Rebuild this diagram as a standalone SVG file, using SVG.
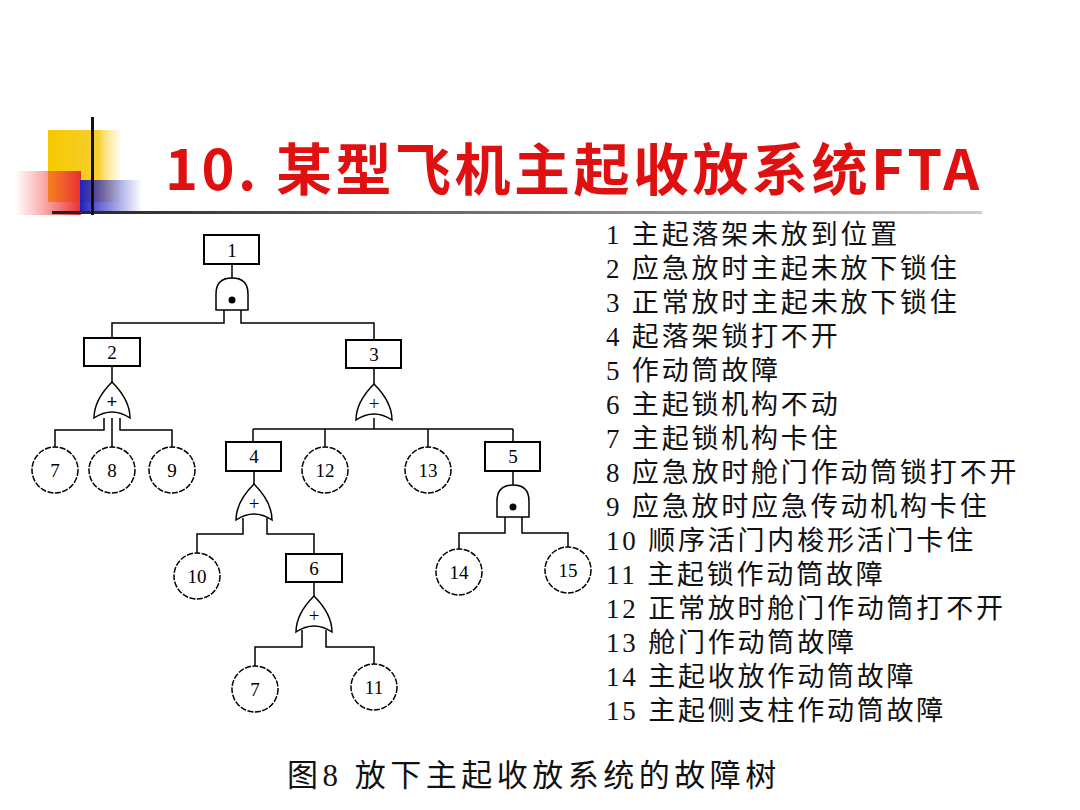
<svg xmlns="http://www.w3.org/2000/svg" width="1080" height="810" viewBox="0 0 1080 810">
<defs>
<linearGradient id="red" x1="0" x2="1"><stop offset="0" stop-color="#ff4040" stop-opacity="0"/><stop offset="1" stop-color="#e83030"/></linearGradient>
<linearGradient id="blue" x1="0" x2="1"><stop offset="0" stop-color="#2020c0"/><stop offset="1" stop-color="#2020c0" stop-opacity="0"/></linearGradient>
<linearGradient id="line" x1="0" x2="1"><stop offset="0" stop-color="#222"/><stop offset="1" stop-color="#ccc"/></linearGradient>
<linearGradient id="yel" x1="0" x2="1"><stop offset="0" stop-color="#f5c800"/><stop offset="0.7" stop-color="#f7cf30"/><stop offset="1" stop-color="#fff0b0" stop-opacity="0.3"/></linearGradient>
<path id="or" d="M-18,18 Q-18,0 0,-18 Q18,0 18,18 Q0,6 -18,18 Z"/>
<path id="and" d="M-16,16 L-16,0 Q-16,-16 0,-16 Q16,-16 16,0 L16,16 Z"/>
</defs>
<style>
.b{fill:#fff;stroke:#000;stroke-width:2}
.c{fill:#fff;stroke:#000;stroke-width:1.5;stroke-dasharray:6 1.5}
.g{fill:#fff;stroke:#000;stroke-width:1.5}
.l{fill:none;stroke:#000;stroke-width:1.5}
.t{font-family:"Liberation Serif","Noto Sans CJK SC",serif;font-size:19px;text-anchor:middle;fill:#000}
.leg{font-family:"Liberation Serif","Noto Sans CJK SC",serif;font-size:27px;fill:#111;letter-spacing:2.8px}
</style>
<rect width="1080" height="810" fill="#fff"/>
<rect x="48" y="130" width="72" height="72" fill="url(#yel)"/>
<rect x="15" y="171" width="66" height="44" fill="url(#red)"/>
<rect x="80" y="180" width="62" height="34" fill="url(#blue)"/>
<rect x="52" y="211" width="930" height="3" fill="url(#line)"/>
<rect x="91" y="117" width="3" height="98" fill="#111"/>
<text x="165" y="190" font-family="Noto Sans CJK SC,sans-serif" font-weight="bold" font-size="56" letter-spacing="3.5" fill="#e01010">10. 某型飞机主起收放系统FTA</text>
<g id="connectors">
<path class="l" d="M232,264V278 M224,310V323H112V338 M241,310V323H374V340"/>
<path class="l" d="M112,366V382 M104,418V430H55V447 M112,418V447 M120,418V430H172V447"/>
<path class="l" d="M374,368V384 M374,418V429 M253,429V442 M325,429V447 M428,429V447 M513,429V442"/>
<path class="l" stroke-width="2.5" d="M253,429H513"/>
<path class="l" d="M513,471V486 M505,516V533H459V549 M522,516V533H568V547"/>
<path class="l" d="M254,471V486 M243,518V534H197V553 M267,518V534H314V554"/>
<path class="l" d="M314,582V598 M302,630V647H255V666 M326,630V647H374V664"/>
</g>
<g id="n1"><rect class="b" x="204" y="235" width="55" height="29"/><text class="t" x="232" y="257">1</text></g>
<g id="g1"><use href="#and" class="g" x="232" y="294"/><circle cx="232" cy="300" r="3.5"/></g>
<g id="n2"><rect class="b" x="84" y="338" width="56" height="28"/><text class="t" x="112" y="359">2</text></g>
<g id="g2"><use href="#or" class="g" x="112" y="400"/><text class="t" x="112" y="408" font-weight="bold" font-size="24">+</text></g>
<g id="n3"><rect class="b" x="346" y="340" width="55" height="28"/><text class="t" x="374" y="361">3</text></g>
<g id="g3"><use href="#or" class="g" x="374" y="402"/><text class="t" x="374" y="410" font-size="22">+</text></g>
<g id="e7a"><circle class="c" cx="55" cy="470" r="23"/><text class="t" x="55" y="477">7</text></g>
<g id="e8"><circle class="c" cx="112" cy="470" r="23"/><text class="t" x="112" y="477">8</text></g>
<g id="e9"><circle class="c" cx="172" cy="470" r="23"/><text class="t" x="172" y="477">9</text></g>
<g id="n4"><rect class="b" x="226" y="442" width="55" height="29"/><text class="t" x="254" y="463">4</text></g>
<g id="e12"><circle class="c" cx="325" cy="470" r="23"/><text class="t" x="325" y="477">12</text></g>
<g id="e13"><circle class="c" cx="428" cy="470" r="23"/><text class="t" x="428" y="477">13</text></g>
<g id="n5"><rect class="b" x="485" y="442" width="55" height="29"/><text class="t" x="513" y="463">5</text></g>
<g id="g5"><use href="#and" class="g" x="513" y="501"/><circle cx="513" cy="507" r="3.5"/></g>
<g id="e14"><circle class="c" cx="459" cy="572" r="23"/><text class="t" x="459" y="579">14</text></g>
<g id="e15"><circle class="c" cx="568" cy="570" r="23"/><text class="t" x="568" y="577">15</text></g>
<g id="g4"><use href="#or" class="g" x="254" y="502"/><text class="t" x="254" y="510" font-size="22">+</text></g>
<g id="e10"><circle class="c" cx="197" cy="576" r="23"/><text class="t" x="197" y="583">10</text></g>
<g id="n6"><rect class="b" x="286" y="554" width="56" height="28"/><text class="t" x="314" y="575">6</text></g>
<g id="g6"><use href="#or" class="g" x="314" y="614"/><text class="t" x="314" y="622" font-size="22">+</text></g>
<g id="e7b"><circle class="c" cx="255" cy="689" r="23"/><text class="t" x="255" y="696">7</text></g>
<g id="e11"><circle class="c" cx="374" cy="687" r="23"/><text class="t" x="374" y="694">11</text></g>
<g id="legend" class="leg">
<text x="606" y="244">1 主起落架未放到位置</text>
<text x="606" y="278">2 应急放时主起未放下锁住</text>
<text x="606" y="312">3 正常放时主起未放下锁住</text>
<text x="606" y="346">4 起落架锁打不开</text>
<text x="606" y="380">5 作动筒故障</text>
<text x="606" y="414">6 主起锁机构不动</text>
<text x="606" y="448">7 主起锁机构卡住</text>
<text x="606" y="482">8 应急放时舱门作动筒锁打不开</text>
<text x="606" y="516">9 应急放时应急传动机构卡住</text>
<text x="606" y="550">10 顺序活门内梭形活门卡住</text>
<text x="606" y="584">11 主起锁作动筒故障</text>
<text x="606" y="618">12 正常放时舱门作动筒打不开</text>
<text x="606" y="652">13 舱门作动筒故障</text>
<text x="606" y="686">14 主起收放作动筒故障</text>
<text x="606" y="720">15 主起侧支柱作动筒故障</text>
</g>
<text x="287" y="786" font-family="Liberation Serif,Noto Sans CJK SC,serif" font-size="31" letter-spacing="4.5" fill="#111">图8 放下主起收放系统的故障树</text>
</svg>
